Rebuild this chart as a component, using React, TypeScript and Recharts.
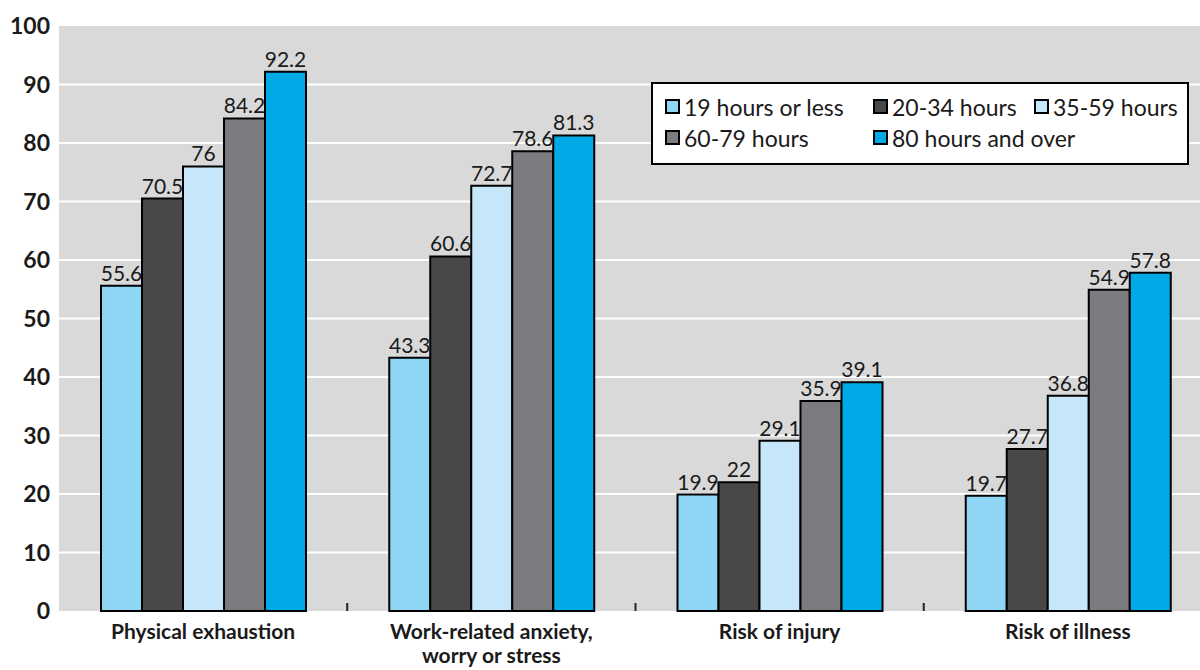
import React from "react";
import { BarChart, Bar, XAxis, YAxis, CartesianGrid, LabelList } from "recharts";

const categories = [
  "Physical exhaustion",
  "Work-related anxiety, worry or stress",
  "Risk of injury",
  "Risk of illness",
];
const seriesNames = ["19 hours or less", "20-34 hours", "35-59 hours", "60-79 hours", "80 hours and over"];
const seriesColors = ["#8ed6f4", "#48484b", "#c5e7f9", "#7c7b80", "#00aae7"];
const hours19OrLess = [55.6, 43.3, 19.9, 19.7];
const hours20to34 = [70.5, 60.6, 22, 27.7];
const hours35to59 = [76, 72.7, 29.1, 36.8];
const hours60to79 = [84.2, 78.6, 35.9, 54.9];
const hours80Over = [92.2, 81.3, 39.1, 57.8];
const yTicks = [0, 10, 20, 30, 40, 50, 60, 70, 80, 90, 100];
const gridValues = [10, 20, 30, 40, 50, 60, 70, 80, 90];

const seriesValues = [hours19OrLess, hours20to34, hours35to59, hours60to79, hours80Over];
const keys = ["s0", "s1", "s2", "s3", "s4"];

const data = categories.map((c, i) => {
  const row: any = { name: c };
  keys.forEach((k, j) => (row[k] = seriesValues[j][i]));
  return row;
});

const FONT = "Lato, 'Open Sans', sans-serif";
const TEXT = "#1a1a1a";

const CHART_W = 1212;
const CHART_H = 670;
const Y_W = 59;
const TOP = 26;
const X_H = 59;
const TICK_MARGIN = 8;
const catW = (CHART_W - Y_W) / categories.length;

const splitLabel = (s: string): string[] => {
  const idx = s.indexOf(", ");
  if (idx < 0) return [s];
  return [s.slice(0, idx + 1), s.slice(idx + 2)];
};

const XTick = (props: any) => {
  const { x, y, payload, index } = props;
  const axisY = y - TICK_MARGIN;
  const lines = splitLabel(String(payload.value));
  return (
    <g>
      <text
        x={x}
        y={y}
        textAnchor="middle"
        fontFamily={FONT}
        fontWeight={700}
        fontSize={21}
        fill={TEXT}
      >
        {lines.map((l, i) => (
          <tspan key={i} x={x} dy={i === 0 ? "0.95em" : 24}>
            {l}
          </tspan>
        ))}
      </text>
      {index < categories.length - 1 && (
        <line x1={x + catW / 2} x2={x + catW / 2} y1={axisY - 8} y2={axisY} stroke="#222" strokeWidth={2} />
      )}
    </g>
  );
};

const LegendBox = () => (
  <div
    style={{
      position: "absolute",
      left: 651,
      top: 82,
      boxSizing: "border-box",
      width: 538,
      height: 83,
      background: "#fff",
      border: "2px solid #000",
      padding: "7px 0 0 12px",
      display: "grid",
      gridTemplateColumns: "208px 161px auto",
      gridAutoRows: "31px",
      fontFamily: FONT,
      fontSize: 23,
      color: TEXT,
    }}
  >
    {seriesNames.map((n, i) => (
      <div
        key={n}
        style={{
          display: "flex",
          alignItems: "center",
          whiteSpace: "nowrap",
          gridColumn: i === 3 ? "1" : i === 4 ? "2 / span 2" : undefined,
          gridRow: i >= 3 ? 2 : 1,
        }}
      >
        <span
          style={{
            display: "inline-block",
            boxSizing: "border-box",
            flexShrink: 0,
            width: 15,
            height: 15,
            background: seriesColors[i],
            border: "2px solid #000",
            marginRight: 4,
          }}
        />
        {n}
      </div>
    ))}
  </div>
);

export default function App() {
  return (
    <div style={{ position: "absolute", left: 0, top: 0, width: 1200, height: 670, overflow: "hidden", background: "#fff" }}>
      <BarChart
        width={CHART_W}
        height={CHART_H}
        data={data}
        margin={{ top: TOP, right: 0, bottom: 0, left: 0 }}
        barCategoryGap={42}
        barGap={0}
      >
        <CartesianGrid
          vertical={false}
          fill="#d9d9d9"
          stroke="#ffffff"
          strokeWidth={2}
          horizontalValues={gridValues}
        />
        <XAxis
          dataKey="name"
          height={X_H}
          axisLine={false}
          tickLine={false}
          tickSize={0}
          tickMargin={TICK_MARGIN}
          interval={0}
          tick={<XTick />}
        />
        <YAxis
          width={Y_W}
          domain={[0, 100]}
          ticks={yTicks}
          interval={0}
          axisLine={false}
          tickLine={false}
          tickSize={0}
          tickMargin={9}
          tick={{ fontFamily: FONT, fontWeight: 700, fontSize: 23, fill: TEXT }}
        />
        {keys.map((k, j) => (
          <Bar
            key={k}
            dataKey={k}
            name={seriesNames[j]}
            fill={seriesColors[j]}
            stroke="#000"
            strokeWidth={2}
            isAnimationActive={false}
          >
            <LabelList
              dataKey={k}
              position="top"
              offset={5}
              fill={TEXT}
              fontFamily={FONT}
              fontSize={21}
            />
          </Bar>
        ))}
      </BarChart>
      <LegendBox />
    </div>
  );
}
